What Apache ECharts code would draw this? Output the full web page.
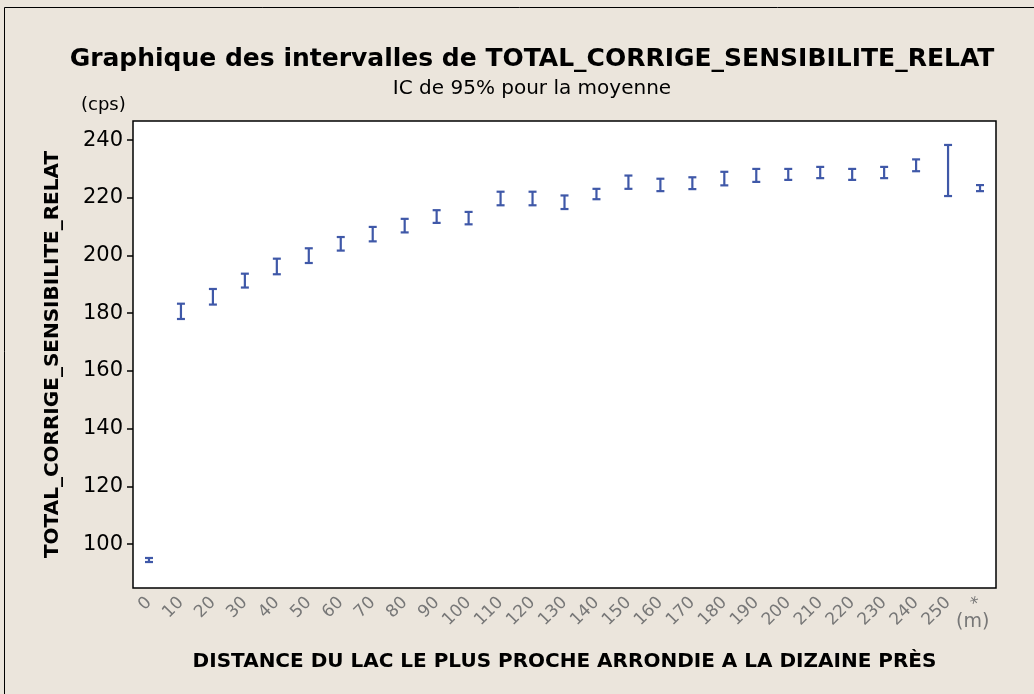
<!DOCTYPE html>
<html>
<head>
<meta charset="utf-8">
<script src="https://cdn.jsdelivr.net/npm/echarts@6/dist/echarts.min.js"></script>
<style>
  html, body { margin: 0; padding: 0; background: #ebe5dc; }
  #chart { width: 1034px; height: 694px; }
</style>
</head>
<body>
<div id="chart"></div>
<script>
// distances (m), '*' = valeur manquante
var categories = ['0','10','20','30','40','50','60','70','80','90','100','110','120','130',
    '140','150','160','170','180','190','200','210','220','230','240','250','*'];
// bornes de l'IC 95%
var upper = [95.2,183.3,188.4,193.7,198.9,202.5,206.4,209.9,212.7,215.7,215.1,222.1,222.1,220.8,
    223.1,227.7,226.6,227.1,229.0,230.0,230.0,230.7,230.0,230.7,233.3,238.3,224.4];
var lower = [93.8,178.0,183.0,188.9,193.5,197.4,201.7,204.9,208.0,211.3,210.8,217.4,217.4,216.1,
    219.5,223.1,222.3,223.0,224.3,225.5,226.2,226.8,226.2,226.8,229.2,220.6,222.3];
var yTicks = [100, 120, 140, 160, 180, 200, 220, 240];

var chart = echarts.init(document.getElementById('chart'));

var barData = categories.map(function (c, i) { return [i, lower[i], upper[i]]; });

option = {
    backgroundColor: '#ebe5dc',
    animation: false,
    title: {
        text: 'Graphique des intervalles de TOTAL_CORRIGE_SENSIBILITE_RELAT',
        subtext: 'IC de 95% pour la moyenne',
        left: 527,
        textAlign: 'center',
        top: 42,
        itemGap: 7,
        textStyle: { fontFamily: 'DejaVu Sans', fontWeight: 'bold', fontSize: 25, color: '#000' },
        subtextStyle: { fontFamily: 'DejaVu Sans', fontSize: 20, color: '#000' }
    },
    grid: {
        left: 133, top: 121, right: 38, bottom: 106,
        show: true,
        backgroundColor: '#fff',
        borderColor: '#000',
        borderWidth: 1.5
    },
    xAxis: {
        type: 'category',
        data: categories,
        name: 'DISTANCE DU LAC LE PLUS PROCHE ARRONDIE A LA DIZAINE PRÈS',
        nameLocation: 'middle',
        nameGap: 64,
        nameTextStyle: { fontFamily: 'DejaVu Sans', fontWeight: 'bold', fontSize: 20, color: '#000' },
        axisLine: { show: false },
        axisTick: { alignWithLabel: true, length: 7, lineStyle: { color: '#000', width: 1.5 } },
        axisLabel: {
            rotate: 45, margin: 12, interval: 0,
            fontFamily: 'DejaVu Sans', fontSize: 17, color: '#777'
        }
    },
    yAxis: {
        type: 'value',
        min: 84.8,
        max: 246.6,
        name: 'TOTAL_CORRIGE_SENSIBILITE_RELAT',
        nameLocation: 'middle',
        nameGap: 70,
        nameTextStyle: { fontFamily: 'DejaVu Sans', fontWeight: 'bold', fontSize: 20, color: '#000' },
        splitLine: { show: false },
        axisLine: { show: false },
        axisTick: { show: true, length: 6, customValues: yTicks, lineStyle: { color: '#000', width: 1.5 } },
        axisLabel: {
            customValues: yTicks, margin: 10,
            fontFamily: 'DejaVu Sans', fontSize: 21, color: '#000'
        }
    },
    graphic: [
        { type: 'text', left: 81, top: 96, style: { text: '(cps)', font: '18px "DejaVu Sans"', fill: '#000' } },
        { type: 'text', left: 956, top: 613, style: { text: '(m)', font: '19px "DejaVu Sans"', fill: '#777' } },
        { type: 'rect', shape: { x: 4.5, y: 7.5, width: 1040, height: 700 }, style: { fill: null, stroke: '#000', lineWidth: 1 } }
    ],
    series: [{
        type: 'custom',
        data: barData,
        encode: { x: 0, y: [1, 2] },
        renderItem: function (params, api) {
            var lo = api.coord([api.value(0), api.value(1)]);
            var hi = api.coord([api.value(0), api.value(2)]);
            var w = 4;
            var style = { stroke: '#3f58a8', lineWidth: 2.2 };
            return {
                type: 'group',
                children: [
                    { type: 'line', shape: { x1: hi[0], y1: hi[1], x2: lo[0], y2: lo[1] }, style: style },
                    { type: 'line', shape: { x1: hi[0] - w, y1: hi[1], x2: hi[0] + w, y2: hi[1] }, style: style },
                    { type: 'line', shape: { x1: lo[0] - w, y1: lo[1], x2: lo[0] + w, y2: lo[1] }, style: style }
                ]
            };
        }
    }]
};

chart.setOption(option);
</script>
</body>
</html>
